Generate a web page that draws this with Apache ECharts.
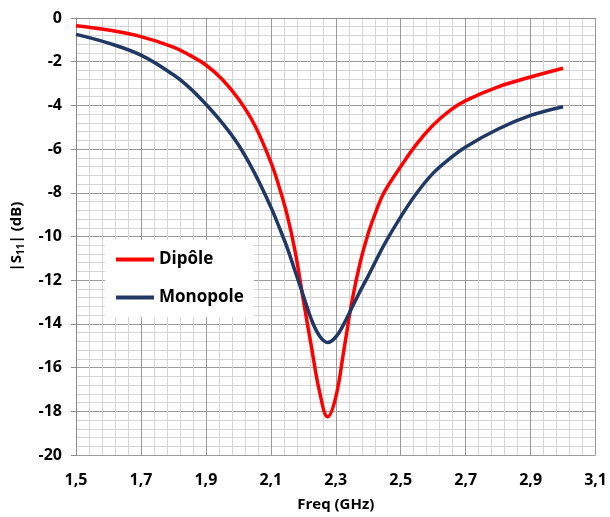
<!DOCTYPE html>
<html>
<head>
<meta charset="utf-8">
<script src="https://cdn.jsdelivr.net/npm/echarts@6/dist/echarts.min.js"></script>
<style>
html,body{margin:0;padding:0;background:#fff;}
#chart{width:610px;height:517px;}
</style>
</head>
<body>
<div id="chart"></div>
<script>
// Data
const seriesNames = ['Dipôle', 'Monopole'];
const dipoleFreq = [1.5, 1.6, 1.7, 1.8, 1.85, 1.9, 1.95, 2.0, 2.05, 2.1, 2.125, 2.15, 2.175, 2.2, 2.225, 2.25, 2.275, 2.3, 2.325, 2.35, 2.375, 2.4, 2.425, 2.45, 2.5, 2.55, 2.6, 2.65, 2.7, 2.8, 2.9, 3.0];
const dipoleS11  = [-0.35, -0.55, -0.85, -1.33, -1.7, -2.15, -2.8, -3.7, -4.9, -6.6, -7.7, -9.0, -10.7, -12.9, -15.05, -17.1, -18.25, -17.35, -15.2, -12.95, -11.2, -9.85, -8.8, -7.95, -6.8, -5.75, -4.9, -4.25, -3.78, -3.15, -2.7, -2.3];
const monoFreq = [1.5, 1.6, 1.7, 1.8, 1.85, 1.9, 1.95, 2.0, 2.05, 2.1, 2.125, 2.15, 2.175, 2.2, 2.225, 2.25, 2.275, 2.3, 2.325, 2.35, 2.375, 2.4, 2.45, 2.5, 2.55, 2.6, 2.65, 2.7, 2.8, 2.9, 3.0];
const monoS11  = [-0.75, -1.15, -1.7, -2.6, -3.2, -3.95, -4.8, -5.8, -7.1, -8.65, -9.55, -10.5, -11.6, -12.7, -13.8, -14.55, -14.85, -14.6, -14.0, -13.25, -12.5, -11.8, -10.35, -9.1, -8.0, -7.1, -6.45, -5.9, -5.08, -4.46, -4.06];
const xTicks = [1.5, 1.7, 1.9, 2.1, 2.3, 2.5, 2.7, 2.9, 3.1];
const yTicks = [0, -2, -4, -6, -8, -10, -12, -14, -16, -18, -20];

const zip = (xs, ys) => xs.map((x, i) => [x, ys[i]]);
const FONT = '"Open Sans", "Liberation Sans", sans-serif';

const chart = echarts.init(document.getElementById('chart'), null, {renderer: 'canvas'});
chart.setOption({
  animation: false,
  backgroundColor: '#ffffff',
  grid: {left: 76, right: 14, top: 18, bottom: 62, containLabel: false},
  legend: {
    orient: 'vertical',
    left: 105, top: 240,
    backgroundColor: '#ffffff',
    padding: [11, 10, 11, 11],
    itemWidth: 38, itemHeight: 4, itemGap: 21,
    icon: 'rect',
    textStyle: {fontFamily: FONT, fontWeight: 'bold', fontSize: 17, color: '#000', lineHeight: 16, padding: [0, 0, 0, 0]},
    data: seriesNames
  },
  xAxis: {
    type: 'value',
    min: xTicks[0], max: xTicks[xTicks.length - 1], interval: 0.2,
    name: 'Freq (GHz)', nameLocation: 'middle', nameGap: 42,
    nameTextStyle: {fontFamily: FONT, fontWeight: 'bold', fontSize: 15, color: '#000'},
    axisLine: {show: true, lineStyle: {color: '#8c8c8c', width: 1}},
    axisTick: {show: false},
    axisLabel: {fontFamily: FONT, fontWeight: 'bold', fontSize: 16, color: '#000', margin: 17,
      formatter: v => v.toFixed(1).replace('.', ',')},
    splitLine: {show: true, lineStyle: {color: '#9a9a9a', width: 1}},
    minorTick: {show: false, splitNumber: 5},
    minorSplitLine: {show: true, lineStyle: {color: '#d4d4d4', width: 1}}
  },
  yAxis: {
    type: 'value',
    min: yTicks[yTicks.length - 1], max: yTicks[0], interval: 2,
    name: '|S{sub|11}| (dB)', nameLocation: 'middle', nameGap: 50, nameRotate: 90,
    nameTextStyle: {fontFamily: FONT, fontWeight: 'bold', fontSize: 15, color: '#000',
      rich: {sub: {fontFamily: FONT, fontWeight: 'bold', fontSize: 10, color: '#000', verticalAlign: 'bottom', padding: [8, 0, 0, 0]}}},
    axisLine: {show: true, lineStyle: {color: '#8c8c8c', width: 1}},
    axisTick: {show: true, inside: false, length: 5, lineStyle: {color: '#8c8c8c'}},
    axisLabel: {fontFamily: FONT, fontWeight: 'bold', fontSize: 16, color: '#000', margin: 14},
    splitLine: {show: true, lineStyle: {color: '#9a9a9a', width: 1}},
    minorTick: {show: false, splitNumber: 5},
    minorSplitLine: {show: true, lineStyle: {color: '#d4d4d4', width: 1}}
  },
  series: [
    {
      name: seriesNames[0], type: 'line', data: zip(dipoleFreq, dipoleS11),
      showSymbol: false, smooth: 0.4,
      lineStyle: {color: '#ff0000', width: 3.5}, itemStyle: {color: '#ff0000'}, z: 3
    },
    {
      name: seriesNames[1], type: 'line', data: zip(monoFreq, monoS11),
      showSymbol: false, smooth: 0.4,
      lineStyle: {color: '#1f3864', width: 3.5}, itemStyle: {color: '#1f3864'}, z: 4
    }
  ]
});
</script>
</body>
</html>
